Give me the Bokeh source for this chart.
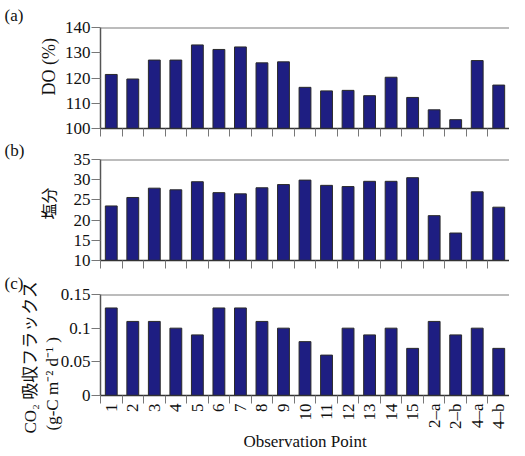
import math
from bokeh.plotting import figure
from bokeh.models import ColumnDataSource, FixedTicker, CustomJSTickFormatter, Span, Title, Range1d
from bokeh.layouts import column
from bokeh.embed import file_html
from bokeh.resources import INLINE

points = ["1", "2", "3", "4", "5", "6", "7", "8", "9", "10", "11", "12", "13", "14", "15",
          "2\u2013a", "2\u2013b", "4\u2013a", "4\u2013b"]
do_values = [121.4, 119.6, 127.1, 127.1, 133.1, 131.3, 132.3, 126.0, 126.4, 116.3, 114.9,
             115.1, 113.0, 120.3, 112.3, 107.4, 103.5, 126.9, 117.2]
salinity = [23.5, 25.6, 27.9, 27.5, 29.5, 26.8, 26.5, 28.0, 28.8, 29.9, 28.6, 28.3, 29.6,
            29.6, 30.5, 21.1, 16.8, 27.0, 23.2]
co2_flux = [0.13, 0.11, 0.11, 0.10, 0.09, 0.13, 0.13, 0.11, 0.10, 0.08, 0.06, 0.10, 0.09,
            0.10, 0.07, 0.11, 0.09, 0.10, 0.07]
do_ticks = [100, 110, 120, 130, 140]
sal_ticks = [10, 15, 20, 25, 30, 35]
co2_ticks = [0, 0.05, 0.1, 0.15]

SERIF = "Liberation Serif"
MIXED = "Liberation Serif, Noto Sans CJK JP"
LEFT = 100
FRAME_W = 409
FRAME_H = 101
N = len(points)
BAR_FILL = "#1e1e82"
BAR_LINE = "#2a2a2a"
AXIS_COLOR = "#555555"
TEXT = "#111111"


def panel_title(p, text, standoff):
    p.add_layout(Title(text=text, align="left", offset=-96, standoff=standoff,
                       text_font=SERIF, text_font_size="17px", text_font_style="normal",
                       text_color=TEXT, text_line_height=1.0), "above")


def side_title(p, text, standoff, align="center", offset=0, size="17px"):
    p.add_layout(Title(text=text, align=align, offset=offset, standoff=standoff,
                       text_font=MIXED, text_font_size=size, text_font_style="normal",
                       text_color=TEXT, text_line_height=1.0), "left")


def panel(values, ticks, border_top, border_bottom, show_labels):
    lo, hi = ticks[0], ticks[-1]
    p = figure(frame_width=FRAME_W, frame_height=FRAME_H,
               x_range=Range1d(0, N), y_range=Range1d(lo, hi),
               output_backend="svg", toolbar_location=None,
               min_border_left=LEFT, min_border_right=0,
               min_border_top=border_top, min_border_bottom=border_bottom)
    p.outline_line_color = None
    p.grid.visible = False
    p.background_fill_color = "white"
    p.border_fill_color = "white"

    src = ColumnDataSource(dict(x=[i + 0.5 for i in range(N)], top=values,
                                bottom=[lo] * N))
    p.vbar(x="x", top="top", bottom="bottom", width=0.55, source=src,
           fill_color=BAR_FILL, line_color=BAR_LINE, line_width=1)

    p.add_layout(Span(location=hi, dimension="width", line_color="#7a7a7a",
                      line_width=2))

    ya = p.yaxis[0]
    ya.ticker = FixedTicker(ticks=ticks, minor_ticks=[])
    ya.formatter = CustomJSTickFormatter(code="return String(Math.round(tick*1000)/1000);")
    ya.major_tick_out = 9
    ya.major_tick_in = 0
    ya.minor_tick_out = 0
    ya.minor_tick_in = 0
    ya.major_label_standoff = 1
    ya.major_label_text_font = SERIF
    ya.major_label_text_font_size = "17px"
    ya.major_label_text_color = TEXT
    ya.axis_line_color = AXIS_COLOR
    ya.axis_line_width = 1.5
    ya.major_tick_line_color = "#777777"
    ya.major_tick_line_width = 1

    xa = p.xaxis[0]
    xa.major_tick_out = 0
    xa.major_tick_in = 0
    xa.minor_tick_out = 8
    xa.minor_tick_in = 0
    xa.minor_tick_line_color = "#777777"
    xa.minor_tick_line_width = 1
    xa.axis_line_color = "#333333"
    xa.axis_line_width = 1.5
    if show_labels:
        xa.ticker = FixedTicker(ticks=[i + 0.5 for i in range(N)],
                                minor_ticks=list(range(N + 1)))
        xa.formatter = CustomJSTickFormatter(
            args=dict(labels=points),
            code="const i = Math.floor(tick); return (i >= 0 && i < labels.length) ? labels[i] : '';")
        xa.major_label_orientation = math.pi / 2
        xa.major_label_standoff = 0
        xa.major_label_text_font = SERIF
        xa.major_label_text_font_size = "17px"
        xa.major_label_text_color = TEXT
        xa.axis_label = "Observation Point"
        xa.axis_label_standoff = 0
        xa.axis_label_text_font = SERIF
        xa.axis_label_text_font_size = "17px"
        xa.axis_label_text_font_style = "normal"
        xa.axis_label_text_color = TEXT
        xa.axis_label_text_line_height = 1.0
    else:
        xa.ticker = FixedTicker(ticks=[], minor_ticks=list(range(N + 1)))
        xa.major_label_text_font_size = "0px"
        xa.major_label_standoff = 0
    return p


pa = panel(do_values, do_ticks, 22, 10, False)
panel_title(pa, "(a)", 6)
side_title(pa, "DO (%)", 5, align="left", offset=33, size="18px")

pb = panel(salinity, sal_ticks, 16, 10, False)
panel_title(pb, "(b)", 0)
side_title(pb, "塩分", 26, align="left", offset=41, size="16px")

pc = panel(co2_flux, co2_ticks, 20, 50, True)
panel_title(pc, "(c)", 3)
side_title(pc, "(g-C m⁻² d⁻¹ )", -8, align="left", offset=-35)
side_title(pc, "CO₂ 吸収フラックス", 10, align="left", offset=-38)

layout = column(pa, pb, pc, spacing=0)
open("out.html", "w").write(file_html(layout, INLINE))
